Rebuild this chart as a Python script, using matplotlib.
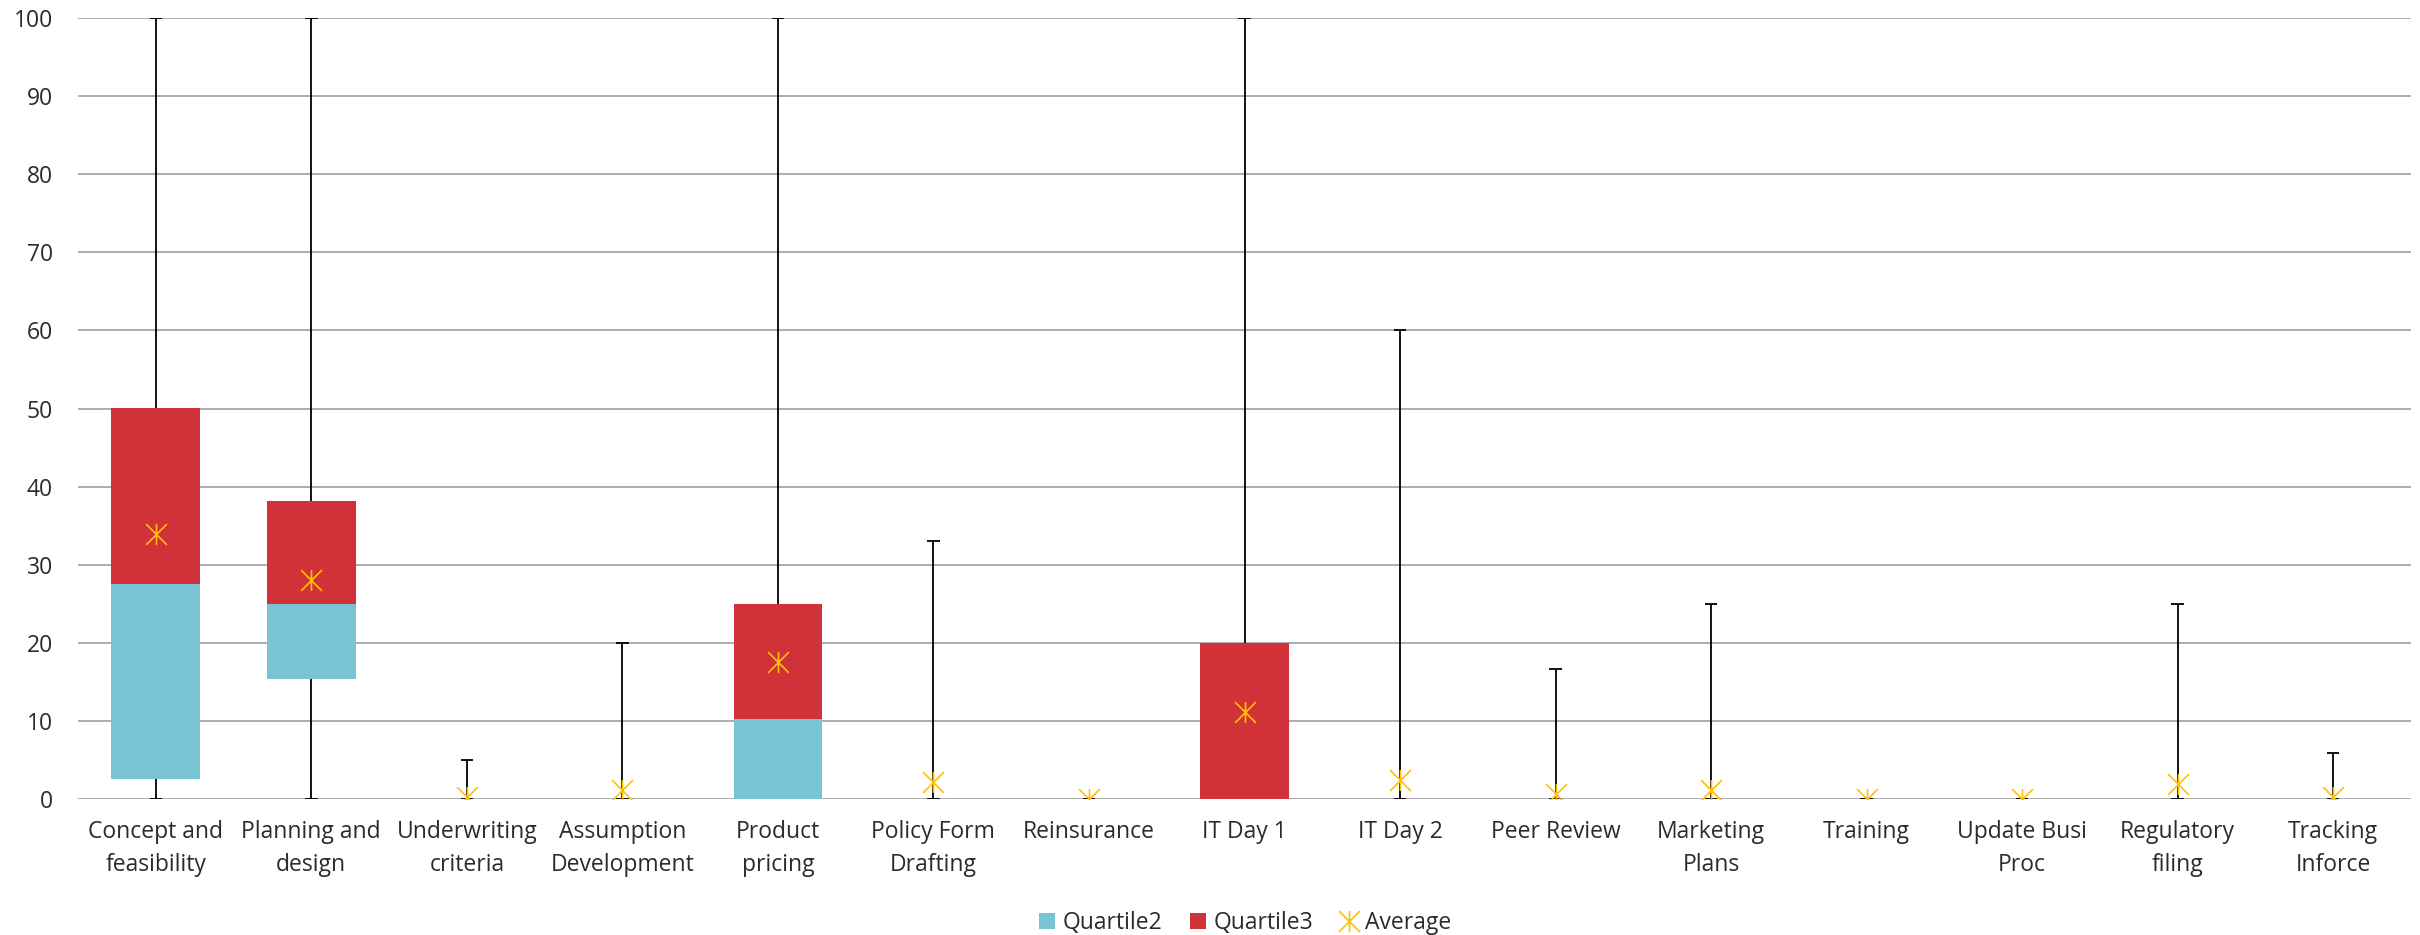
import matplotlib
matplotlib.use("Agg")
import matplotlib.pyplot as plt
from matplotlib.path import Path
from matplotlib.patches import Patch
from matplotlib.lines import Line2D
import numpy as np

categories = ["Concept and\nfeasibility", "Planning and\ndesign", "Underwriting\ncriteria",
              "Assumption\nDevelopment", "Product\npricing", "Policy Form\nDrafting",
              "Reinsurance", "IT Day 1", "IT Day 2", "Peer Review", "Marketing\nPlans",
              "Training", "Update Busi\nProc", "Regulatory\nfiling", "Tracking\nInforce"]
mins     = [0, 0, 0, 0, 0, 0, 0, 0, 0, 0, 0, 0, 0, 0, 0]
q1       = [2.5, 15.4, 0, 0, 0, 0, 0, 0, 0, 0, 0, 0, 0, 0, 0]
medians  = [27.5, 25.0, 0, 0, 10.2, 0, 0, 0, 0, 0, 0, 0, 0, 0, 0]
q3       = [50, 38.2, 0, 0, 25, 0, 0, 20, 0, 0, 0, 0, 0, 0, 0]
maxs     = [100, 100, 5, 20, 100, 33, 0, 100, 60, 16.7, 25, 0, 0, 25, 5.9]
averages = [33.9, 28.1, 0.2, 1.1, 17.6, 2.2, 0.0, 11.2, 2.4, 0.7, 1.1, 0.0, 0.0, 1.9, 0.2]
yticks = [0, 10, 20, 30, 40, 50, 60, 70, 80, 90, 100]

TEAL = "#78C4D4"
RED = "#D13239"
GOLD = "#FFC000"
TXT = "#2b2b2b"

plt.rcParams['font.family'] = ['Open Sans', 'DejaVu Sans']
plt.rcParams['font.size'] = 16.5

fig = plt.figure(figsize=(24.2, 9.35), dpi=100)
ax = fig.add_axes([78/2420, 1-799/935, (2411-78)/2420, (799-18)/935])

x = np.arange(len(categories))
q1a = np.array(q1); meda = np.array(medians); q3a = np.array(q3)
w = 0.57

# whiskers
ax.vlines(x, mins, maxs, color="black", lw=1.3, zorder=2)
cap = 0.04
ax.hlines(maxs, x - cap, x + cap, color="black", lw=1.3, zorder=2)
ax.hlines(mins, x - cap, x + cap, color="black", lw=1.3, zorder=2)

ax.bar(x, meda - q1a, bottom=q1a, width=w, color=TEAL, zorder=3, label="Quartile2")
ax.bar(x, q3a - meda, bottom=meda, width=w, color=RED, zorder=3, label="Quartile3")

star = Path([(-1, -1), (1, 1), (-1, 1), (1, -1), (0, -1), (0, 1)],
            [Path.MOVETO, Path.LINETO, Path.MOVETO, Path.LINETO, Path.MOVETO, Path.LINETO])
ax.plot(x, averages, linestyle="none", marker=star, markersize=15, markeredgewidth=1.2,
        markeredgecolor=GOLD, markerfacecolor="none", zorder=4, label="Average")

ax.set_xlim(-0.5, len(categories) - 0.5)
ax.set_ylim(0, 100)
ax.set_yticks(yticks)
ax.set_xticks(x)
ax.set_xticklabels(categories, color=TXT, linespacing=1.5)
ax.tick_params(axis="y", length=0, pad=18, labelcolor=TXT)
ax.tick_params(axis="x", length=0, pad=15)
ax.yaxis.grid(True, color="#a6a6a6", lw=1.3, zorder=0)
ax.set_axisbelow(True)
for s in ax.spines.values():
    s.set_visible(False)

handles = [Patch(facecolor=TEAL, edgecolor="none"), Patch(facecolor=RED, edgecolor="none"),
           Line2D([], [], linestyle="none", marker=star, markersize=15, markeredgewidth=1.2,
                  markeredgecolor=GOLD, markerfacecolor="none")]
leg = fig.legend(handles, ["Quartile2", "Quartile3", "Average"], loc="center",
                 bbox_to_anchor=(1245/2420, 1-923/935), ncol=3, frameon=False,
                 handlelength=0.7, handleheight=0.7, handletextpad=0.35, columnspacing=1.2)
for t in leg.get_texts():
    t.set_color(TXT)

fig.savefig("out.png", dpi=100)
